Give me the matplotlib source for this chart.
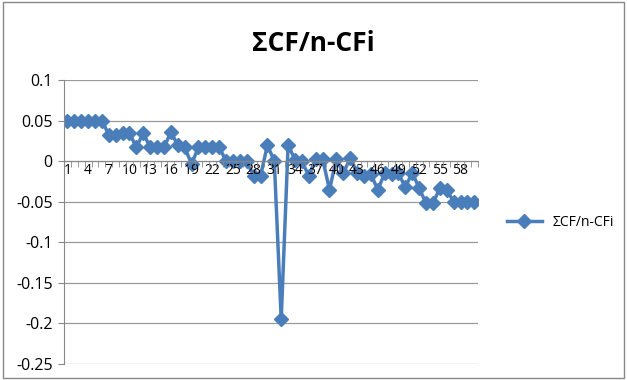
import numpy as np
import matplotlib
matplotlib.use('Agg')
import matplotlib.pyplot as plt
from matplotlib.patches import Rectangle

plt.rcParams['font.family'] = ['Open Sans', 'DejaVu Sans']

# series values, one per category 1..60
idx = list(range(1, 61))
vals = [0.05, 0.05, 0.05, 0.05, 0.05, 0.05, 0.033, 0.033, 0.035, 0.035,
        0.017, 0.035, 0.017, 0.017, 0.017, 0.036, 0.02, 0.017, -0.003, 0.017,
        0.018, 0.018, 0.018, 0.0, 0.0, 0.0, 0.0, -0.018, -0.018, 0.02,
        0.0, -0.195, 0.02, 0.002, 0.0, -0.018, 0.003, 0.003, -0.035, 0.003,
        -0.015, 0.004, -0.015, -0.018, -0.016, -0.035, -0.015, -0.016, -0.015, -0.032,
        -0.014, -0.033, -0.052, -0.052, -0.033, -0.035, -0.05, -0.05, -0.05, -0.05]
xlabels = [str(i) for i in range(1, 61, 3)]
yticks = [-0.25, -0.2, -0.15, -0.1, -0.05, 0, 0.05, 0.1]
ylabels = ['-0.25', '-0.2', '-0.15', '-0.1', '-0.05', '0', '0.05', '0.1']

fig = plt.figure(figsize=(6.27, 3.80), dpi=100)
fig.patches.append(Rectangle((0.004, 0.004), 0.992, 0.992, transform=fig.transFigure,
                             fill=False, edgecolor='#888888', linewidth=1))
ax = fig.add_axes([0.102, 0.042, 0.66, 0.747])

ax.plot(idx, vals, color='#4A7EBB', linewidth=2.5, marker='D', markersize=7,
        label='ΣCF/n-CFi')

ax.set_xlim(0.5, 60.5)
ax.set_ylim(-0.25, 0.1)
ax.set_yticks(yticks)
ax.set_yticklabels(ylabels, fontsize=11.5)
ax.yaxis.grid(True, color='#999999', linewidth=0.9)
ax.set_axisbelow(True)
# category labels sit on top of the line, like in excel
ax.xaxis.set_zorder(3)

ax.set_xticks(range(1, 61, 3))
ax.set_xticklabels(xlabels, fontsize=11.5)
ax.set_xticks(np.arange(0.5, 61, 1), minor=True)
ax.tick_params(axis='x', which='major', length=0, pad=1)
ax.tick_params(axis='x', which='minor', length=4, color='#888888', direction='out')
ax.tick_params(axis='y', length=4, color='#888888', pad=4)

for s in ['top', 'right']:
    ax.spines[s].set_visible(False)
ax.spines['bottom'].set_position(('data', 0))
ax.spines['bottom'].set_color('#888888')
ax.spines['left'].set_color('#888888')

fig.text(0.5, 0.885, 'ΣCF/n-CFi', ha='center', va='center', fontsize=19, fontweight='bold')

ax.legend(loc='center left', bbox_to_anchor=(1.04, 0.5), frameon=False, fontsize=10,
          handlelength=2.5)

fig.savefig('out.png', dpi=100)
